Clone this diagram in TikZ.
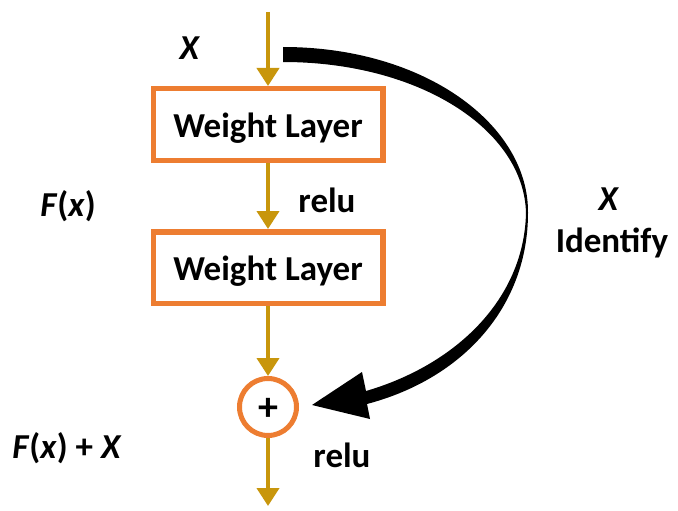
\documentclass[tikz,border=0pt]{standalone}
\usepackage{fontspec}
\setmainfont{Carlito}
\usetikzlibrary{arrows.meta}
\definecolor{flowgold}{HTML}{C8960C}
\definecolor{layerorange}{HTML}{ED7D31}
\begin{document}
\begin{tikzpicture}[x=1pt,y=-1pt,
  lbl/.style={font=\bfseries\fontsize{35}{40}\selectfont, inner sep=0pt},
  layer/.style={lbl, draw=layerorange, line width=5.5pt, fill=white,
    minimum width=229.5pt, minimum height=71.5pt,
    text height=25pt, text depth=0pt},
  sumnode/.style={circle, draw=layerorange, line width=5pt, fill=white,
    minimum size=57pt, inner sep=0pt},
  flow/.style={draw=flowgold, line width=4pt,
    -{Triangle[width=22pt,length=18pt]}},
]
\useasboundingbox (0,0) rectangle (678,511);

% main path: two weight layers and the adder
\coordinate (in) at (268,12);
\node[layer] (w1) at (268,124.5) {Weight Layer};
\node[layer] (w2) at (268,267.5) {Weight Layer};
\node[sumnode] (sum) at (268,407) {};
\node[font=\bfseries\fontsize{40}{40}\selectfont, inner sep=0pt] (plus) at (268,409) {+};
\coordinate (out) at (268,506);

\draw[flow] (in) -- (w1.north);
\draw[flow] (w1.south) -- (w2.north);
\draw[flow] (w2.south) -- (sum.north);
\draw[flow] (sum.south) -- (out);

% labels
\node[lbl] (xin) at (190,48) {\textit{X}};
\node[lbl] (fx) at (68,206) {\textit{F}(\textit{x})};
\node[lbl, anchor=base] (relu1) at (327,212) {relu};
\node[lbl] (fxx) at (67,448) {\textit{F}(\textit{x}) + \textit{X}};
\node[lbl, anchor=base] (relu2) at (342,467) {relu};
\node[lbl] (xid) at (609,199) {\textit{X}};
\node[lbl, anchor=base] (ident) at (612,252) {Identify};

% tapered identity shortcut
\fill[black] (283,47) .. controls (425,47) and (529,125) .. (528,213)
  .. controls (528,305) and (465,378) .. (367,404)
  -- (370,419) -- (312,405) -- (362,372) -- (366,391)
  .. controls (455,365) and (524,300) .. (526,213)
  .. controls (524,130) and (420,62) .. (283,62) -- cycle;
\end{tikzpicture}
\end{document}
